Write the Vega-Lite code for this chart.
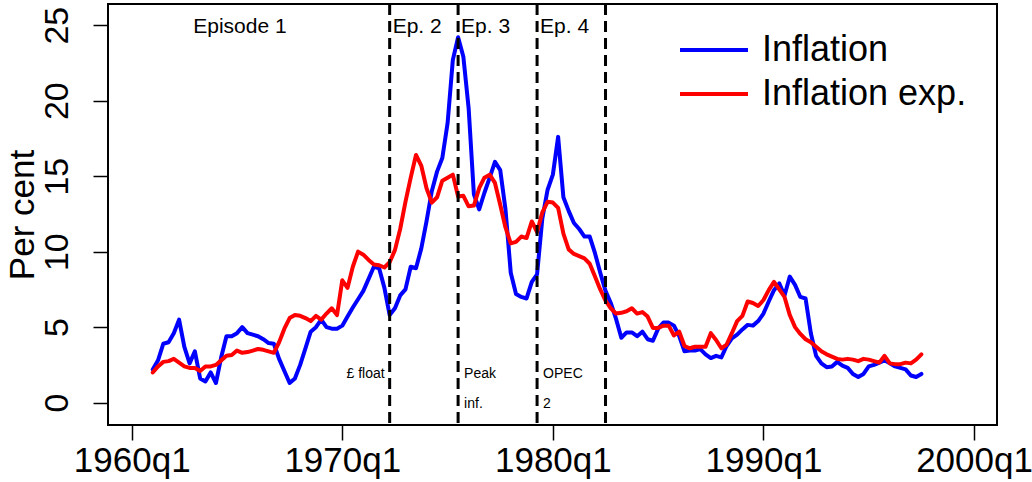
{
  "$schema": "https://vega.github.io/schema/vega-lite/v6.json",
  "width": 889,
  "height": 421,
  "autosize": {"type": "none"},
  "padding": {"left": 108, "top": 4, "right": 35, "bottom": 57},
  "background": "white",
  "config": {
    "font": "Liberation Sans",
    "view": {"stroke": "black", "strokeWidth": 2},
    "axis": {"grid": false, "domain": false, "tickColor": "black", "labelColor": "black", "tickWidth": 1.5, "titleColor": "black"}
  },
  "datasets": {
    "series": [
      {"t":1961,"a":2.2,"b":2.0},{"t":1961.25,"a":2.8,"b":2.4},{"t":1961.5,"a":3.9,"b":2.7},{"t":1961.75,"a":4.0,"b":2.75},
      {"t":1962,"a":4.6,"b":2.9},{"t":1962.25,"a":5.5,"b":2.65},{"t":1962.5,"a":3.7,"b":2.4},{"t":1962.75,"a":2.6,"b":2.3},
      {"t":1963,"a":3.4,"b":2.3},{"t":1963.25,"a":1.6,"b":2.1},{"t":1963.5,"a":1.4,"b":2.4},{"t":1963.75,"a":2.0,"b":2.4},
      {"t":1964,"a":1.3,"b":2.5},{"t":1964.25,"a":3.0,"b":2.8},{"t":1964.5,"a":4.4,"b":3.1},{"t":1964.75,"a":4.4,"b":3.15},
      {"t":1965,"a":4.6,"b":3.45},{"t":1965.25,"a":5.0,"b":3.3},{"t":1965.5,"a":4.6,"b":3.35},{"t":1965.75,"a":4.5,"b":3.45},
      {"t":1966,"a":4.4,"b":3.55},{"t":1966.25,"a":4.2,"b":3.5},{"t":1966.5,"a":3.95,"b":3.4},{"t":1966.75,"a":3.9,"b":3.3},
      {"t":1967,"a":2.9,"b":4.0},{"t":1967.25,"a":2.1,"b":4.9},{"t":1967.5,"a":1.3,"b":5.6},{"t":1967.75,"a":1.6,"b":5.8},
      {"t":1968,"a":2.5,"b":5.75},{"t":1968.25,"a":3.6,"b":5.6},{"t":1968.5,"a":4.7,"b":5.4},{"t":1968.75,"a":5.0,"b":5.75},
      {"t":1969,"a":5.5,"b":5.5},{"t":1969.25,"a":5.0,"b":5.9},{"t":1969.5,"a":4.9,"b":6.25},{"t":1969.75,"a":4.9,"b":5.8},
      {"t":1970,"a":5.1,"b":8.1},{"t":1970.25,"a":5.7,"b":7.6},{"t":1970.5,"a":6.3,"b":9.0},{"t":1970.75,"a":6.85,"b":10.0},
      {"t":1971,"a":7.4,"b":9.8},{"t":1971.25,"a":8.2,"b":9.45},{"t":1971.5,"a":9.0,"b":9.15},{"t":1971.75,"a":8.9,"b":9.1},
      {"t":1972,"a":7.6,"b":8.95},{"t":1972.25,"a":5.8,"b":9.3},{"t":1972.5,"a":6.25,"b":10.1},{"t":1972.75,"a":7.1,"b":11.5},
      {"t":1973,"a":7.5,"b":13.3},{"t":1973.25,"a":9.0,"b":14.9},{"t":1973.5,"a":8.9,"b":16.4},{"t":1973.75,"a":10.2,"b":15.7},
      {"t":1974,"a":12.0,"b":14.2},{"t":1974.25,"a":14.0,"b":13.25},{"t":1974.5,"a":15.3,"b":13.6},{"t":1974.75,"a":16.2,"b":14.7},
      {"t":1975,"a":18.5,"b":14.9},{"t":1975.25,"a":22.7,"b":15.1},{"t":1975.5,"a":24.2,"b":13.65},{"t":1975.75,"a":22.9,"b":13.7},
      {"t":1976,"a":19.5,"b":13.0},{"t":1976.25,"a":13.8,"b":13.05},{"t":1976.5,"a":12.8,"b":14.2},{"t":1976.75,"a":13.9,"b":14.9},
      {"t":1977,"a":14.9,"b":15.1},{"t":1977.25,"a":15.95,"b":14.55},{"t":1977.5,"a":15.4,"b":13.1},{"t":1977.75,"a":12.8,"b":11.6},
      {"t":1978,"a":8.6,"b":10.55},{"t":1978.25,"a":7.2,"b":10.65},{"t":1978.5,"a":7.0,"b":11.0},{"t":1978.75,"a":6.9,"b":10.9},
      {"t":1979,"a":8.0,"b":12.0},{"t":1979.25,"a":8.5,"b":11.3},{"t":1979.5,"a":12.2,"b":12.6},{"t":1979.75,"a":14.1,"b":13.3},
      {"t":1980,"a":15.1,"b":13.25},{"t":1980.25,"a":17.6,"b":12.9},{"t":1980.5,"a":13.6,"b":11.2},{"t":1980.75,"a":12.7,"b":10.15},
      {"t":1981,"a":11.9,"b":9.85},{"t":1981.25,"a":11.5,"b":9.7},{"t":1981.5,"a":11.0,"b":9.55},{"t":1981.75,"a":11.0,"b":9.2},
      {"t":1982,"a":9.9,"b":8.35},{"t":1982.25,"a":8.6,"b":7.5},{"t":1982.5,"a":7.4,"b":6.75},{"t":1982.75,"a":6.6,"b":6.25},
      {"t":1983,"a":5.55,"b":5.9},{"t":1983.25,"a":4.3,"b":5.95},{"t":1983.5,"a":4.65,"b":6.05},{"t":1983.75,"a":4.65,"b":6.25},
      {"t":1984,"a":4.4,"b":5.9},{"t":1984.25,"a":4.7,"b":6.0},{"t":1984.5,"a":4.2,"b":5.7},{"t":1984.75,"a":4.1,"b":4.95},
      {"t":1985,"a":4.9,"b":4.95},{"t":1985.25,"a":5.3,"b":5.1},{"t":1985.5,"a":5.3,"b":5.1},{"t":1985.75,"a":5.1,"b":4.45},
      {"t":1986,"a":4.4,"b":4.7},{"t":1986.25,"a":3.4,"b":3.75},{"t":1986.5,"a":3.45,"b":3.6},{"t":1986.75,"a":3.45,"b":3.7},
      {"t":1987,"a":3.55,"b":3.7},{"t":1987.25,"a":3.2,"b":3.7},{"t":1987.5,"a":2.95,"b":4.6},{"t":1987.75,"a":3.1,"b":4.15},
      {"t":1988,"a":3.0,"b":3.6},{"t":1988.25,"a":3.75,"b":3.85},{"t":1988.5,"a":4.25,"b":4.6},{"t":1988.75,"a":4.5,"b":5.4},
      {"t":1989,"a":4.85,"b":5.75},{"t":1989.25,"a":5.15,"b":6.7},{"t":1989.5,"a":5.1,"b":6.6},{"t":1989.75,"a":5.4,"b":6.4},
      {"t":1990,"a":5.9,"b":6.8},{"t":1990.25,"a":6.7,"b":7.45},{"t":1990.5,"a":7.45,"b":8.0},{"t":1990.75,"a":7.9,"b":7.5},
      {"t":1991,"a":7.1,"b":7.0},{"t":1991.25,"a":8.35,"b":5.8},{"t":1991.5,"a":7.8,"b":5.0},{"t":1991.75,"a":7.0,"b":4.55},
      {"t":1992,"a":6.9,"b":4.2},{"t":1992.25,"a":4.6,"b":4.0},{"t":1992.5,"a":3.1,"b":3.7},{"t":1992.75,"a":2.6,"b":3.4},
      {"t":1993,"a":2.35,"b":3.2},{"t":1993.25,"a":2.4,"b":3.05},{"t":1993.5,"a":2.7,"b":2.9},{"t":1993.75,"a":2.45,"b":2.85},
      {"t":1994,"a":2.3,"b":2.9},{"t":1994.25,"a":1.9,"b":2.85},{"t":1994.5,"a":1.7,"b":2.75},{"t":1994.75,"a":1.9,"b":2.9},
      {"t":1995,"a":2.4,"b":2.85},{"t":1995.25,"a":2.5,"b":2.75},{"t":1995.5,"a":2.65,"b":2.65},{"t":1995.75,"a":2.8,"b":3.1},
      {"t":1996,"a":2.6,"b":2.6},{"t":1996.25,"a":2.4,"b":2.55},{"t":1996.5,"a":2.3,"b":2.55},{"t":1996.75,"a":2.2,"b":2.65},
      {"t":1997,"a":1.8,"b":2.6},{"t":1997.25,"a":1.7,"b":2.85},{"t":1997.5,"a":1.9,"b":3.2}
    ],
    "breaks": [{"t":1972.25},{"t":1975.5},{"t":1979.25},{"t":1982.5}],
    "labels": [
      {"t":1965.14,"v":24.46,"label":"Episode 1","kind":"center"},
      {"t":1972.25,"v":24.46,"label":"Ep. 2","kind":"ep"},
      {"t":1975.5,"v":24.46,"label":"Ep. 3","kind":"ep"},
      {"t":1979.25,"v":24.46,"label":"Ep. 4","kind":"ep"},
      {"t":1972.25,"v":1.64,"label":"£ float","kind":"noteR"},
      {"t":1975.5,"v":1.64,"label":"Peak","kind":"noteL"},
      {"t":1975.5,"v":-0.37,"label":"inf.","kind":"noteL"},
      {"t":1979.25,"v":1.64,"label":"OPEC","kind":"noteL"},
      {"t":1979.25,"v":-0.37,"label":"2","kind":"noteL"}
    ]
  },
  "layer": [
    {
      "data": {"name": "series"},
      "transform": [{"fold": ["a", "b"], "as": ["s", "v"]}],
      "mark": {"type": "line", "strokeWidth": 4, "strokeJoin": "round", "strokeCap": "round"},
      "encoding": {
        "x": {"field": "t", "type": "quantitative", "title": null,
              "scale": {"domain": [1958.875, 2001.09], "nice": false, "zero": false},
              "axis": {"values": [1960, 1970, 1980, 1990, 2000], "format": "d", "labelExpr": "datum.label + 'q1'",
                       "labelFontSize": 35, "tickSize": 15, "labelPadding": 3, "labelFlush": false, "labelOverlap": false}},
        "y": {"field": "v", "type": "quantitative", "title": "Per cent",
              "scale": {"domain": [-1.48, 26.4], "nice": false, "zero": false},
              "axis": {"values": [0, 5, 10, 15, 20, 25], "labelAngle": 270, "labelAlign": "center", "labelBaseline": "bottom",
                       "labelFontSize": 34, "tickSize": 15, "labelPadding": 19,
                       "titleFontSize": 35, "titleFontWeight": "normal", "titleAngle": 270, "titleBaseline": "bottom",
                       "titleAlign": "center", "titleX": -68, "titleY": 210.5}},
        "color": {"field": "s", "type": "nominal",
                  "scale": {"domain": ["a", "b"], "range": ["#0000ff", "#ff0000"]},
                  "legend": {"orient": "none", "legendX": 570, "legendY": 24, "title": null,
                             "labelExpr": "datum.value == 'a' ? 'Inflation' : 'Inflation exp.'",
                             "symbolType": "stroke", "symbolSize": 4624, "symbolStrokeWidth": 4,
                             "labelFontSize": 36, "labelColor": "black", "labelOffset": 12, "labelLimit": 500,
                             "clipHeight": 44, "rowPadding": 0, "padding": 0}}
      }
    },
    {
      "data": {"name": "breaks"},
      "mark": {"type": "rule", "color": "black", "strokeWidth": 3, "strokeDash": [11, 6]},
      "encoding": {"x": {"field": "t", "type": "quantitative", "title": null}}
    },
    {
      "data": {"name": "labels"},
      "transform": [{"filter": "datum.kind == 'center'"}],
      "mark": {"type": "text", "fontSize": 21, "color": "black", "baseline": "alphabetic", "align": "center"},
      "encoding": {
        "x": {"field": "t", "type": "quantitative", "title": null},
        "y": {"field": "v", "type": "quantitative", "title": "Per cent"},
        "text": {"field": "label"}
      }
    },
    {
      "data": {"name": "labels"},
      "transform": [{"filter": "datum.kind == 'ep'"}],
      "mark": {"type": "text", "fontSize": 21, "color": "black", "baseline": "alphabetic", "align": "left", "dx": 3},
      "encoding": {
        "x": {"field": "t", "type": "quantitative", "title": null},
        "y": {"field": "v", "type": "quantitative", "title": "Per cent"},
        "text": {"field": "label"}
      }
    },
    {
      "data": {"name": "labels"},
      "transform": [{"filter": "datum.kind == 'noteR'"}],
      "mark": {"type": "text", "fontSize": 14, "color": "black", "baseline": "alphabetic", "align": "right", "dx": -5},
      "encoding": {
        "x": {"field": "t", "type": "quantitative", "title": null},
        "y": {"field": "v", "type": "quantitative", "title": "Per cent"},
        "text": {"field": "label"}
      }
    },
    {
      "data": {"name": "labels"},
      "transform": [{"filter": "datum.kind == 'noteL'"}],
      "mark": {"type": "text", "fontSize": 14, "color": "black", "baseline": "alphabetic", "align": "left", "dx": 6},
      "encoding": {
        "x": {"field": "t", "type": "quantitative", "title": null},
        "y": {"field": "v", "type": "quantitative", "title": "Per cent"},
        "text": {"field": "label"}
      }
    }
  ]
}
